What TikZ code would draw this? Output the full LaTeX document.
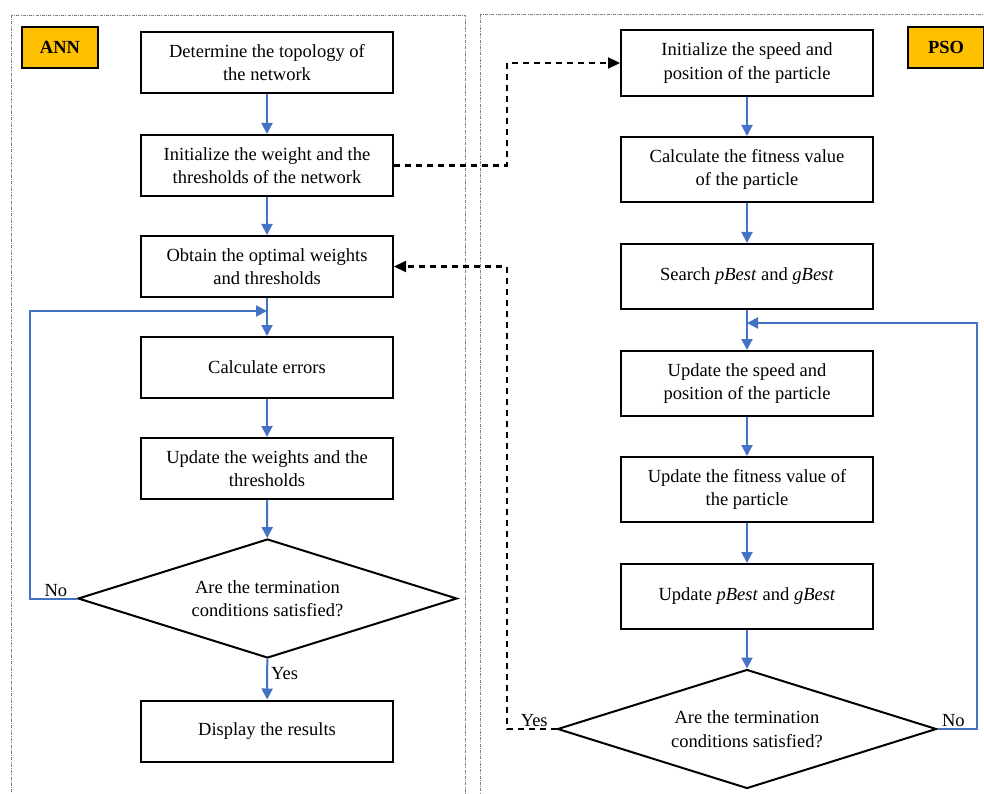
\documentclass[tikz,border=0pt]{standalone}
\usepackage{fontspec}
\setmainfont{Liberation Serif}
\usetikzlibrary{shapes.geometric,arrows.meta}
\definecolor{flowblue}{HTML}{4472C4}
\definecolor{tagorange}{HTML}{FFC000}
\begin{document}
\begin{tikzpicture}[x=1pt,y=-1pt,
  every node/.style={font=\fontsize{18.5}{23.5}\selectfont},
  stepbox/.style={draw=black,line width=2pt,minimum width=252pt,minimum height=61pt,align=center,inner sep=0pt,fill=white},
  decbox/.style={draw=black,line width=2pt,diamond,aspect=3.2,minimum width=379pt,minimum height=119pt,inner sep=0pt,align=center},
  tagbox/.style={draw=black,line width=2pt,fill=tagorange,minimum width=76pt,minimum height=41pt,font=\fontsize{18.5}{23}\selectfont\bfseries},
  frame/.style={draw=gray,line width=0.9pt,dash pattern=on 3pt off 1.2pt on 1pt off 1.2pt},
  flow/.style={draw=flowblue,line width=2pt,-{Triangle[length=11pt,width=11pt]}},
  link/.style={draw=black,line width=2.2pt,dash pattern=on 6pt off 5pt,-{Triangle[length=12pt,width=11pt]}},
  lbl/.style={inner sep=1pt}
]
\useasboundingbox (0,0) rectangle (984,794);
\fill[white] (0,0) rectangle (984,794);
% frames
\draw[frame] (11,15) rectangle (465,810);
\draw[frame] (480,14) rectangle (1000,810);
% tags
\node[tagbox] (ann) at (60,47.5) {ANN};
\node[tagbox] (pso) at (946,47.5) {PSO};
% left column
\node[stepbox] (a1) at (267,62.5) {Determine the topology of\\the network};
\node[stepbox] (a2) at (267,165.5) {Initialize the weight and the\\thresholds of the network};
\node[stepbox] (a3) at (267,266.5) {Obtain the optimal weights\\and thresholds};
\node[stepbox] (a4) at (267,367.5) {Calculate errors};
\node[stepbox] (a5) at (267,468.5) {Update the weights and the\\thresholds};
\node[decbox] (a6) at (267.5,598.5) {Are the termination\\conditions satisfied?};
\node[stepbox] (a7) at (267,731) {Display the results};
% right column
\node[stepbox,minimum height=66pt] (b1) at (747,63) {Initialize the speed and\\position of the particle};
\node[stepbox,minimum height=65pt] (b2) at (747,169.5) {Calculate the fitness value\\of the particle};
\node[stepbox,minimum height=65pt] (b3) at (747,276.5) {Search \textit{pBest} and \textit{gBest}};
\node[stepbox,minimum height=65pt] (b4) at (747,383.5) {Update the speed and\\position of the particle};
\node[stepbox,minimum height=65pt] (b5) at (747,489.5) {Update the fitness value of\\the particle};
\node[stepbox,minimum height=65pt] (b6) at (747,596.5) {Update \textit{pBest} and \textit{gBest}};
\node[decbox] (b7) at (747,729) {Are the termination\\conditions satisfied?};
% left flow
\draw[flow] (a1) -- (a2);
\draw[flow] (a2) -- (a3);
\draw[flow] (a3) -- (a4);
\draw[flow] (a4) -- (a5);
\draw[flow] (a5) -- (a6);
\draw[flow] (a6) -- node[lbl,right,pos=0.35,xshift=2pt] (yesa) {Yes} (a7);
\coordinate (ja) at (267,311);
\draw[flow] (a6.west) -- node[lbl,above,pos=0.45] (noa) {No} (30,598.5) -- (30,311) -- (ja);
% right flow
\draw[flow] (b1) -- (b2);
\draw[flow] (b2) -- (b3);
\draw[flow] (b3) -- (b4);
\draw[flow] (b4) -- (b5);
\draw[flow] (b5) -- (b6);
\draw[flow] (b6) -- (b7);
\coordinate (jb) at (747,323);
\draw[flow] (b7.east) -- node[lbl,above,pos=0.4] (nob) {No} (977,729) -- (977,323) -- (jb);
% dashed links
\draw[link] (a2.east) -- (507,165.5) -- (507,63) -- (b1.west);
\draw[link] (b7.west) -- node[lbl,above,pos=0.45] (yesb) {Yes} (507,729) -- (507,266.5) -- (a3.east);
\end{tikzpicture}
\end{document}
